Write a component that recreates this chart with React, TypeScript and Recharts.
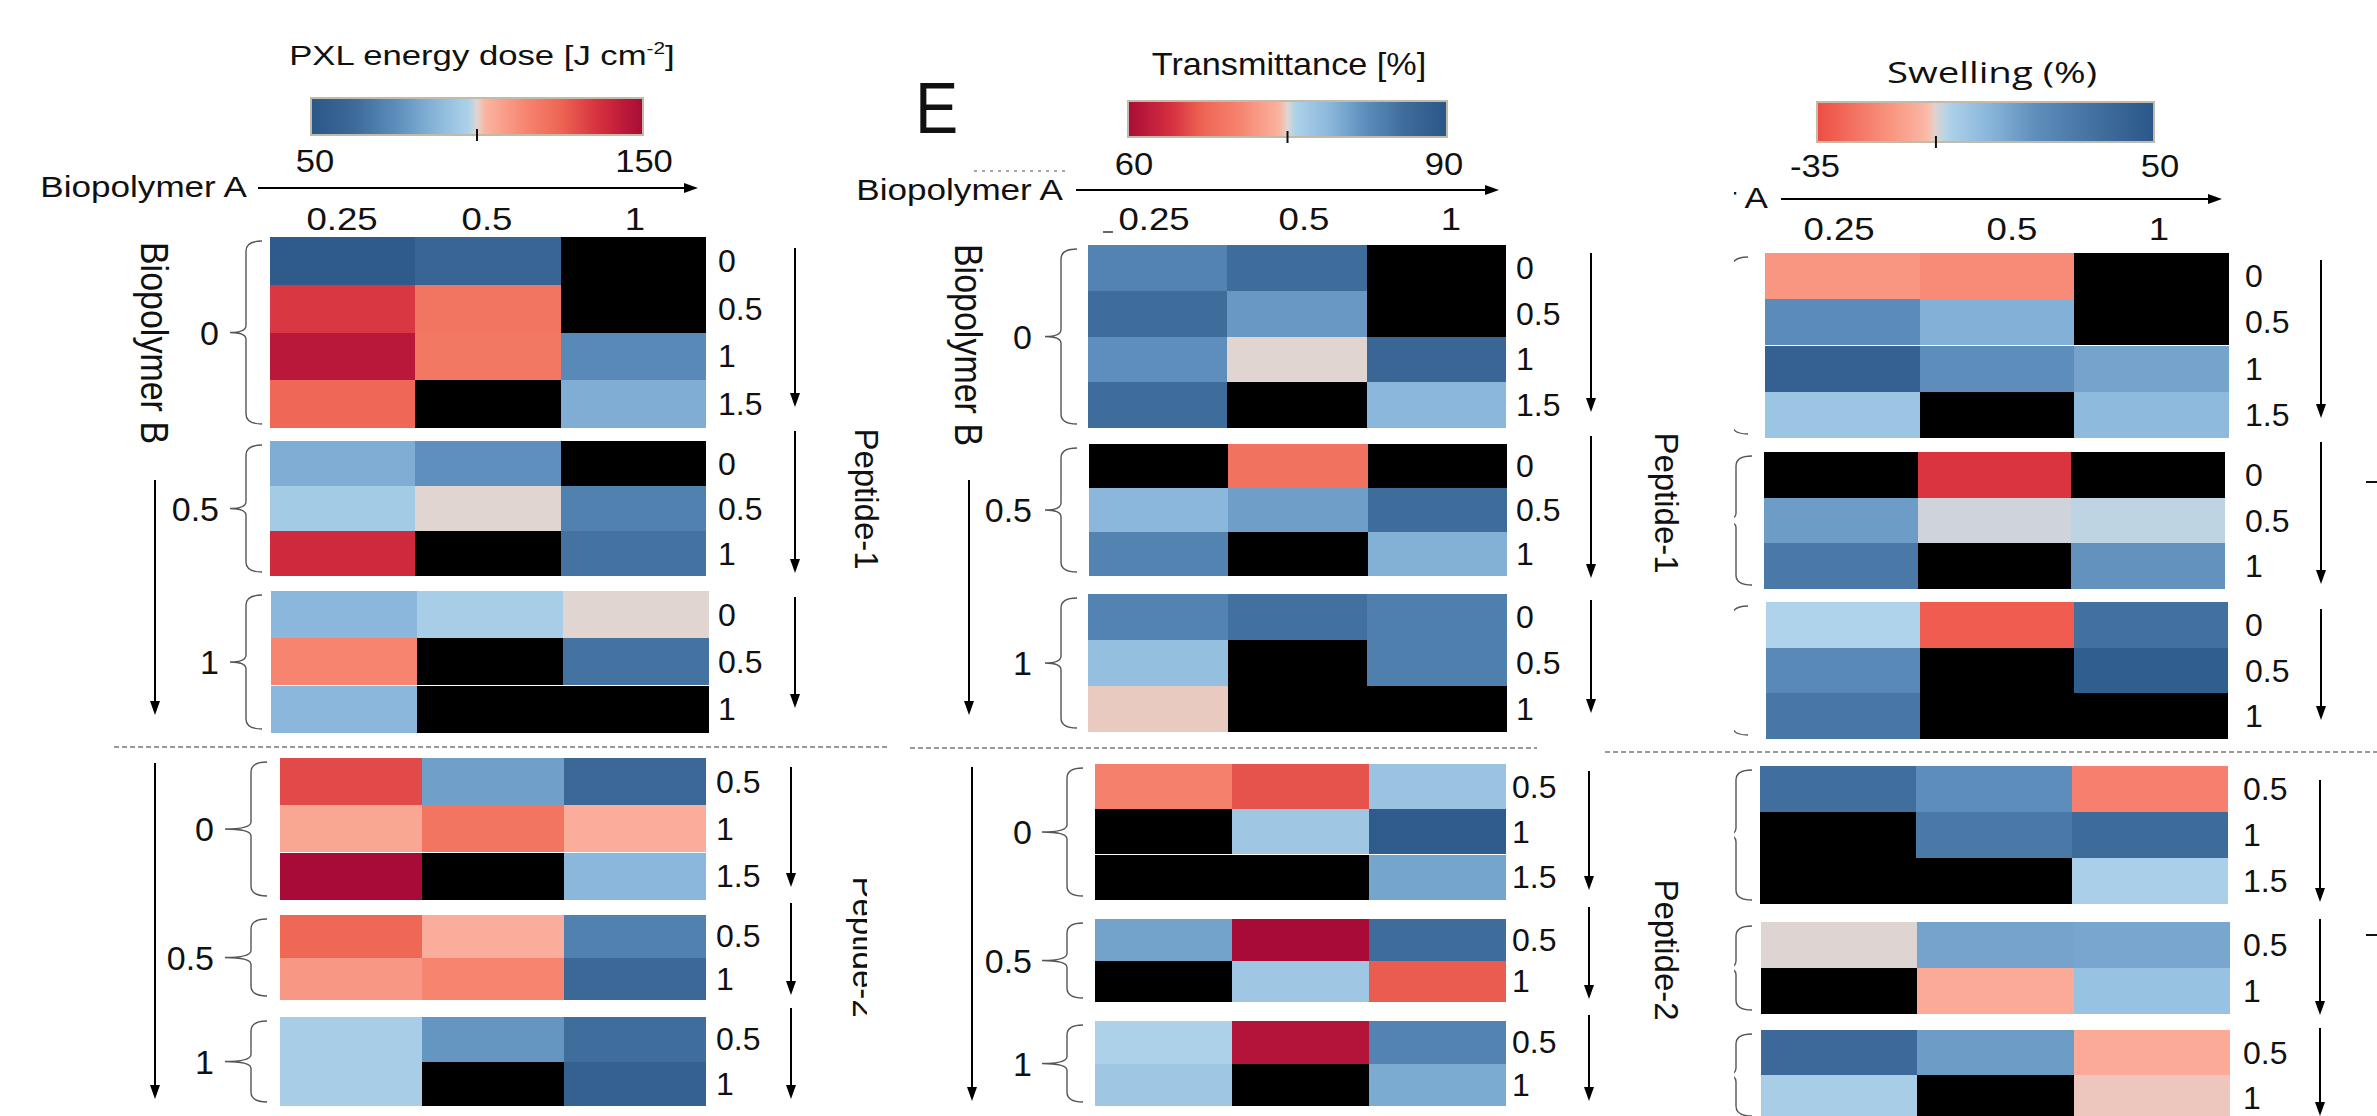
import React from "react";
import { BarChart, Bar, Cell, XAxis, YAxis } from "recharts";

const SANS = '"Liberation Sans", Arial, Helvetica, sans-serif';

// axis / row labels
const A_LABELS = ["0.25", "0.5", "1"];
const B_LABELS = ["0", "0.5", "1"];
const P1_ROWS = [["0", "0.5", "1", "1.5"], ["0", "0.5", "1"], ["0", "0.5", "1"]];
const P2_ROWS = [["0.5", "1", "1.5"], ["0.5", "1"], ["0.5", "1"]];

// PXL energy dose [J cm-2]; columns = biopolymer A 0.25 / 0.5 / 1, null = no gel (black)
const doseP1B0 = [[53, 60, null], [135, 120, null], [145, 119, 74], [124, null, 85]];
const doseP1B05 = [[85, 76, null], [95, 100, 71], [139, null, 66]];
const doseP1B1 = [[88, 96, 100], [115, null, 66], [88, null, null]];
const doseP2B0 = [[131, 81, 62], [106, 120, 104], [150, null, 88]];
const doseP2B05 = [[124, 104, 71], [110, 115, 62]];
const doseP2B1 = [[96, 78, 64], [96, null, 57]];

// Transmittance [%]
const transP1B0 = [[83.5, 86, null], [86, 81.5, null], [82.3, 75, 87], [86, null, 79]];
const transP1B05 = [[null, 68.5, null], [79, 81, 86], [83.5, null, 79.5]];
const transP1B1 = [[83.5, 85.5, 84], [78, null, 84], [74.8, null, null]];
const transP2B0 = [[70, 66, 77.5], [null, 77, 89], [null, null, 80.5]];
const transP2B05 = [[80.7, 60, 86], [null, 77, 66.5]];
const transP2B1 = [[75.8, 61, 83.5], [77, null, 80]];

// Swelling (%)
const swellP1B0 = [[-16, -19, null], [22, 10, null], [44, 21, 14], [3, null, 7]];
const swellP1B05 = [[null, -42, null], [16, -4, -3], [31, null, 19]];
const swellP1B1 = [[-2, -31, 35], [23, null, 46], [32, null, null]];
const swellP2B0 = [[36, 21, -22], [null, 31, 38], [null, null, -1]];
const swellP2B05 = [[-5, 14, 13], [null, -11, 4]];
const swellP2B1 = [[39, 16, -11], [0, null, -6]];

// colour bar ends
const doseTicks = ["50", "150"];
const transTicks = ["60", "90"];
const swellTicks = ["-35", "50"];

const doseStops: [number, string][] = [
  [50, "#2a5788"], [62, "#3b6896"], [75, "#5a8cba"], [88, "#8ab7db"], [98, "#aed3ea"],
  [100, "#e0d5d1"], [102, "#fbb5a2"], [115, "#f6846f"], [125, "#ee6553"], [137, "#d52e3e"], [150, "#a80b37"],
];
const transStops: [number, string][] = [
  [60, "#a80b37"], [64, "#d52e3e"], [67, "#ee6553"], [70.5, "#f6846f"], [74.4, "#fbb5a2"],
  [75, "#e0d5d1"], [75.6, "#aed3ea"], [79, "#8ab7db"], [82.5, "#5a8cba"], [86.5, "#3b6896"], [90, "#2a5788"],
];
const swellStops: [number, string][] = [
  [-45, "#d22a3d"], [-35, "#ee4c42"], [-25, "#f47563"], [-15, "#f99a84"], [-7, "#fbb9a8"],
  [-5, "#ded5d2"], [-2, "#aed3ea"], [8, "#8ab7db"], [20, "#5f8fbc"], [35, "#42709f"], [50, "#2a5788"],
];

const hex = (h: string) => [1, 3, 5].map((i) => parseInt(h.slice(i, i + 2), 16));

function scaleFrom(stops: [number, string][]) {
  return (v: number | null) => {
    if (v == null) return "#000000";
    if (v <= stops[0][0]) return stops[0][1];
    for (let i = 1; i < stops.length; i++) {
      if (v <= stops[i][0]) {
        const [v0, c0] = stops[i - 1];
        const [v1, c1] = stops[i];
        const t = (v - v0) / (v1 - v0);
        const a = hex(c0);
        const b = hex(c1);
        return `rgb(${a.map((x, k) => Math.round(x + (b[k] - x) * t)).join(",")})`;
      }
    }
    return stops[stops.length - 1][1];
  };
}

// one unit per biopolymer-A column, stable references for the stacked bars
const UNIT = [() => 1, () => 1, () => 1];

type Box = [number, number, number, number];

function Block({ box, rows, vals, color }: { box: Box; rows: string[]; vals: (number | null)[][]; color: (v: number | null) => string }) {
  const [x, y, w, h] = box;
  const table = rows.map((r, i) => ({ row: r, c0: vals[i][0], c1: vals[i][1], c2: vals[i][2] }));
  return (
    <div style={{ position: "absolute", left: x, top: y, shapeRendering: "crispEdges" } as any}>
      <BarChart layout="vertical" width={w} height={h} data={table} margin={{ top: 0, right: 0, bottom: 0, left: 0 }} barCategoryGap={0} barGap={0}>
        <XAxis type="number" domain={[0, 3]} hide />
        <YAxis type="category" dataKey="row" hide width={0} />
        {UNIT.map((fn, c) => (
          <Bar key={c} dataKey={fn} stackId="a" isAnimationActive={false}>
            {table.map((d, i) => (
              <Cell key={i} fill={color(vals[i][c])} />
            ))}
          </Bar>
        ))}
      </BarChart>
    </div>
  );
}

function T({ x, y, fs = 32, sx = 1, anchor = "start", rot = 0, family = SANS, children }: any) {
  return (
    <text transform={`translate(${x} ${y}) scale(${sx} 1)${rot ? ` rotate(${rot})` : ""}`} fontSize={fs} fontFamily={family} textAnchor={anchor} fill="#111">
      {children}
    </text>
  );
}

function DownArrow({ x, y1, y2 }: any) {
  return (
    <g>
      <line x1={x} y1={y1} x2={x} y2={y2 - 12} stroke="#000" strokeWidth={2} />
      <path d={`M${x - 5},${y2 - 14}L${x + 5},${y2 - 14}L${x},${y2}Z`} fill="#000" />
    </g>
  );
}

function RightArrow({ x1, x2, y }: any) {
  return (
    <g>
      <line x1={x1} y1={y} x2={x2 - 12} y2={y} stroke="#000" strokeWidth={2} />
      <path d={`M${x2 - 14},${y - 5}L${x2 - 14},${y + 5}L${x2},${y}Z`} fill="#000" />
    </g>
  );
}

function Brace({ x, tip, y1, y2 }: any) {
  const v = x - 16;
  const m = (y1 + y2) / 2;
  const d = `M${x},${y1} Q${v},${y1} ${v},${y1 + 10} L${v},${m - 7} Q${v},${m} ${tip},${m} Q${v},${m} ${v},${m + 7} L${v},${y2 - 10} Q${v},${y2} ${x},${y2}`;
  return <path d={d} fill="none" stroke="#555" strokeWidth={1.4} />;
}

const PANELS = [
  {
    id: "dose",
    color: scaleFrom(doseStops),
    domain: [50, 150], mid: 100, ticks: doseTicks,
    bar: [311, 98, 332, 37] as Box, tickX: [315, 644], tickY: 172,
    title: { x: 482, y: 65, fs: 28, sx: 1.24, family: SANS, text: "PXL energy dose [J cm", sup: "-2", end: "]" },
    colX: [342, 487, 635], colY: 230,
    aText: [247, 197], aArrow: [258, 698, 188], bText: [141, 343],
    vals: [[doseP1B0, doseP1B05, doseP1B1], [doseP2B0, doseP2B05, doseP2B1]],
    boxes: [
      [[270, 237, 436, 191], [270, 441, 436, 135], [271, 591, 438, 142]],
      [[280, 758, 426, 142], [280, 915, 426, 85], [280, 1017, 426, 89]],
    ] as Box[][],
    brX: [[262, 262, 262], [267, 267, 267]], brTip: [230, 225], bLabX: [219, 214], rowLabX: [718, 716],
    arrX: [795, 791],
    arr: [[[248, 407], [431, 573], [597, 708]], [[767, 887], [903, 995], [1008, 1099]]],
    bArr: [[155, 480, 715], [155, 763, 1099]],
    dash: [114, 890, 747],
    peptides: [[855, 499, "Peptide-1", 0], [853, 947, "Peptide-2", 867]],
    clipX: 0,
  },
  {
    id: "trans",
    color: scaleFrom(transStops),
    domain: [60, 90], mid: 75, ticks: transTicks,
    bar: [1128, 101, 319, 36] as Box, tickX: [1134, 1444], tickY: 175,
    title: { x: 1289, y: 75, fs: 32, sx: 1.07, family: SANS, text: "Transmittance [%]", sup: "", end: "" },
    colX: [1154, 1304, 1451], colY: 230,
    aText: [1063, 200], aArrow: [1076, 1499, 190], bText: [955, 345],
    vals: [[transP1B0, transP1B05, transP1B1], [transP2B0, transP2B05, transP2B1]],
    boxes: [
      [[1088, 245, 418, 183], [1089, 444, 418, 132], [1088, 594, 419, 138]],
      [[1095, 764, 411, 136], [1095, 919, 411, 83], [1095, 1021, 411, 85]],
    ] as Box[][],
    brX: [[1077, 1077, 1077], [1083, 1083, 1083]], brTip: [1045, 1042], bLabX: [1032, 1032], rowLabX: [1516, 1512],
    arrX: [1591, 1589],
    arr: [[[253, 412], [436, 578], [600, 713]], [[771, 890], [907, 999], [1015, 1101]]],
    bArr: [[969, 480, 715], [972, 767, 1101]],
    dash: [910, 1537, 748],
    peptides: [[1655, 503, "Peptide-1", 0], [1655, 950, "Peptide-2", 0]],
    clipX: 0,
  },
  {
    id: "swell",
    color: scaleFrom(swellStops),
    domain: [-35, 50], mid: -5, ticks: swellTicks,
    bar: [1817, 102, 337, 40] as Box, tickX: [1815, 2160], tickY: 177,
    title: { x: 1992, y: 83, fs: 30, sx: 1.28, family: '"Open Sans", "Noto Sans", sans-serif', text: "Swelling (%)", sup: "", end: "" },
    colX: [1839, 2012, 2159], colY: 240,
    aText: [1768, 208], aArrow: [1781, 2222, 199], bText: [1636, 350],
    vals: [[swellP1B0, swellP1B05, swellP1B1], [swellP2B0, swellP2B05, swellP2B1]],
    boxes: [
      [[1765, 253, 464, 185], [1764, 452, 461, 137], [1766, 602, 462, 137]],
      [[1760, 766, 468, 138], [1761, 922, 469, 92], [1761, 1030, 469, 90]],
    ] as Box[][],
    brX: [[1748, 1752, 1748], [1752, 1752, 1752]], brTip: [1718, 1726], bLabX: [1705, 1705], rowLabX: [2245, 2243],
    arrX: [2321, 2320],
    arr: [[[260, 418], [442, 584], [609, 720]], [[780, 902], [919, 1015], [1028, 1116]]],
    bArr: [[1650, 480, 715], [1650, 767, 1101]],
    dash: [1605, 2377, 752],
    peptides: [],
    clipX: 1734,
  },
];

function Decor({ p }: { p: any }) {
  const [bx, by, bw, bh] = p.bar;
  const [d0, d1] = p.domain;
  const samples = Array.from({ length: 41 }, (_, i) => d0 + ((d1 - d0) * i) / 40);
  const midX = bx + (bw * (p.mid - d0)) / (d1 - d0);
  const rowSets = [P1_ROWS, P2_ROWS];
  return (
    <g>
      <defs>
        <linearGradient id={`grad-${p.id}`} x1="0" x2="1" y1="0" y2="0">
          {samples.map((v, i) => (
            <stop key={i} offset={i / 40} stopColor={p.color(v)} />
          ))}
        </linearGradient>
        <clipPath id={`clip-${p.id}`}>
          <rect x={p.clipX} y={0} width={2377} height={1116} />
        </clipPath>
      </defs>
      <line x1={p.dash[0]} x2={p.dash[1]} y1={p.dash[2]} y2={p.dash[2]} stroke="#9a9a9a" strokeWidth={2} strokeDasharray="5 3" />
      <g clipPath={`url(#clip-${p.id})`}>
        <T x={p.title.x} y={p.title.y} fs={p.title.fs} sx={p.title.sx} anchor="middle" family={p.title.family}>
          {p.title.text}
          {p.title.sup ? (
            <tspan fontSize={p.title.fs * 0.6} dy={-p.title.fs * 0.38}>
              {p.title.sup}
            </tspan>
          ) : null}
          {p.title.end ? <tspan dy={p.title.fs * 0.38}>{p.title.end}</tspan> : null}
        </T>
        <rect x={bx} y={by} width={bw} height={bh} fill={`url(#grad-${p.id})`} stroke="#c2bba9" strokeWidth={2} />
        <line x1={midX} x2={midX} y1={by + bh - 6} y2={by + bh + 6} stroke="#111" strokeWidth={2} />
        {p.ticks.map((t: string, i: number) => (
          <T key={t} x={p.tickX[i]} y={p.tickY} fs={32} sx={1.08} anchor="middle">
            {t}
          </T>
        ))}
        <T x={p.aText[0]} y={p.aText[1]} fs={30} sx={1.17} anchor="end">
          Biopolymer A
        </T>
        <RightArrow x1={p.aArrow[0]} x2={p.aArrow[1]} y={p.aArrow[2]} />
        {A_LABELS.map((a, i) => (
          <T key={a} x={p.colX[i]} y={p.colY} fs={31} sx={1.18} anchor="middle">
            {a}
          </T>
        ))}
        <T x={p.bText[0]} y={p.bText[1]} fs={34} sx={1.15} anchor="middle" rot={90}>
          Biopolymer B
        </T>
        {p.bArr.map((a: number[], i: number) => (
          <DownArrow key={i} x={a[0]} y1={a[1]} y2={a[2]} />
        ))}
        {p.boxes.map((set: Box[], s: number) =>
          set.map((box, g) => {
            const [, y, , h] = box;
            const rows = rowSets[s][g];
            const rh = h / rows.length;
            return (
              <g key={`${s}-${g}`}>
                <Brace x={p.brX[s][g]} tip={p.brTip[s]} y1={y + 4} y2={y + h - 4} />
                <T x={p.bLabX[s]} y={y + h / 2 + 12} fs={34} anchor="end">
                  {B_LABELS[g]}
                </T>
                {rows.map((r, i) => (
                  <T key={r} x={p.rowLabX[s]} y={y + rh * (i + 0.5) + 11} fs={32}>
                    {r}
                  </T>
                ))}
                <DownArrow x={p.arrX[s]} y1={p.arr[s][g][0]} y2={p.arr[s][g][1]} />
              </g>
            );
          })
        )}
      </g>
      {p.peptides.map(([x, y, txt, clip]: any) => (
        <g key={txt} clipPath={clip ? `url(#clip-pep-${p.id})` : undefined}>
          {clip ? (
            <defs>
              <clipPath id={`clip-pep-${p.id}`}>
                <rect x={0} y={0} width={clip} height={1116} />
              </clipPath>
            </defs>
          ) : null}
          <T x={x} y={y} fs={33} anchor="middle" rot={90}>
            {txt}
          </T>
        </g>
      ))}
    </g>
  );
}

export default function App() {
  return (
    <div style={{ position: "absolute", left: 0, top: 0, width: 2377, height: 1116, background: "#fff", overflow: "hidden" }}>
      {PANELS.map((p) =>
        p.boxes.map((set, s) =>
          set.map((box, g) => (
            <Block key={`${p.id}-${s}-${g}`} box={box} rows={(s === 0 ? P1_ROWS : P2_ROWS)[g]} vals={p.vals[s][g]} color={p.color} />
          ))
        )
      )}
      <svg width={2377} height={1116} style={{ position: "absolute", left: 0, top: 0 }}>
        <T x={915} y={133} fs={72} sx={0.9}>
          E
        </T>
        <line x1={974} x2={1065} y1={171} y2={171} stroke="#888" strokeWidth={1.5} strokeDasharray="3 5" />
        <line x1={1103} x2={1113} y1={232} y2={232} stroke="#333" strokeWidth={1.5} />
        <line x1={2366} x2={2377} y1={482} y2={482} stroke="#111" strokeWidth={2} />
        <line x1={2366} x2={2377} y1={935} y2={935} stroke="#111" strokeWidth={2} />
        {PANELS.map((p) => (
          <Decor key={p.id} p={p} />
        ))}
      </svg>
    </div>
  );
}
